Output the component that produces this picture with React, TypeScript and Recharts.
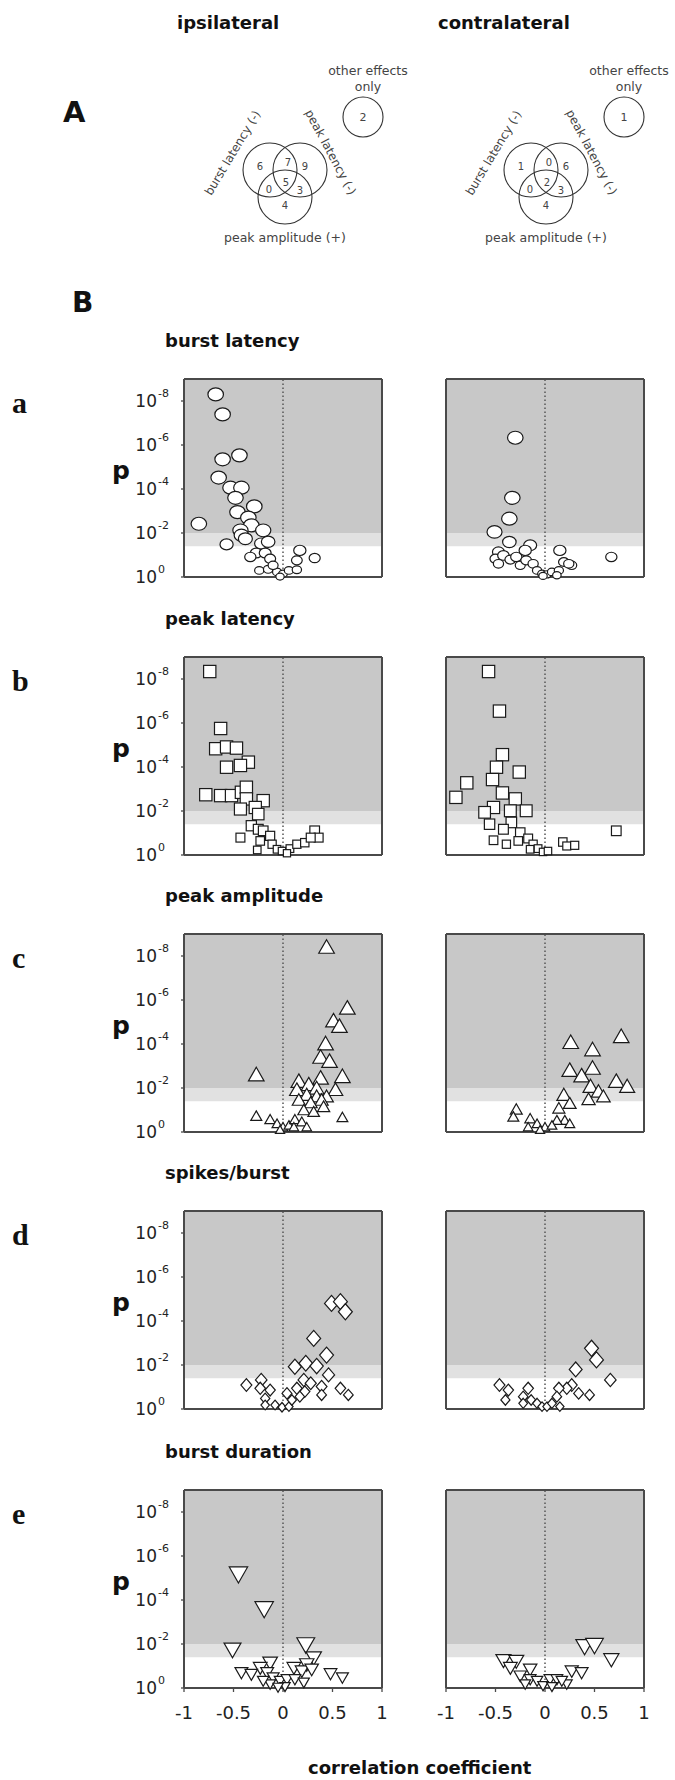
import React from 'react';
import { ScatterChart, Scatter, XAxis, YAxis, ReferenceArea, ReferenceLine } from 'recharts';

// r = correlation coefficient, lp = -log10(p)
const burstLatencyIpsi = [
  [-0.68, 8.3], [-0.61, 7.39], [-0.44, 5.53], [-0.61, 5.35], [-0.65, 4.52], [-0.53, 4.06], [-0.42, 4.06],
  [-0.48, 3.6], [-0.29, 3.21], [-0.46, 2.95], [-0.35, 2.7], [-0.32, 2.35], [-0.85, 2.42], [-0.2, 2.12],
  [-0.43, 2.12], [-0.42, 1.9], [-0.38, 1.74], [-0.57, 1.48], [-0.22, 1.52], [-0.15, 1.6], [-0.27, 1.09],
  [-0.33, 0.91], [-0.18, 1.09], [-0.13, 0.83], [-0.24, 0.3], [-0.15, 0.35], [-0.06, 0.23], [0.0, 0.15],
  [0.06, 0.3], [0.14, 0.33], [0.14, 0.76], [0.17, 1.21], [0.32, 0.86], [-0.03, 0.02], [-0.1, 0.53],
];
const burstLatencyContra = [
  [-0.3, 6.33], [-0.33, 3.6], [-0.36, 2.65], [-0.51, 2.05], [-0.36, 1.59], [-0.15, 1.44], [-0.2, 1.21],
  [-0.47, 1.14], [-0.5, 0.83], [-0.42, 0.98], [-0.35, 0.79], [-0.47, 0.6], [-0.29, 0.91], [-0.25, 0.53],
  [-0.19, 0.76], [-0.12, 0.6], [-0.08, 0.3], [-0.03, 0.15], [0.02, 0.12], [0.07, 0.23], [0.14, 0.3],
  [0.15, 1.21], [0.19, 0.68], [0.27, 0.53], [0.24, 0.6], [0.67, 0.91], [0.12, 0.08], [-0.02, 0.05],
];
const peakLatencyIpsi = [
  [-0.74, 8.34], [-0.63, 5.75], [-0.68, 4.83], [-0.57, 4.91], [-0.47, 4.86], [-0.35, 4.22], [-0.43, 4.07],
  [-0.57, 3.99], [-0.78, 2.74], [-0.63, 2.7], [-0.52, 2.7], [-0.42, 2.85], [-0.37, 3.08], [-0.37, 2.55],
  [-0.2, 2.47], [-0.43, 2.09], [-0.28, 2.16], [-0.25, 1.86], [-0.32, 1.33], [-0.43, 0.79], [-0.25, 1.17],
  [-0.2, 1.1], [-0.13, 0.87], [-0.23, 0.64], [-0.26, 0.23], [-0.11, 0.49], [-0.06, 0.26], [-0.01, 0.18],
  [0.07, 0.29], [0.14, 0.49], [0.22, 0.56], [0.32, 1.1], [0.36, 0.79], [0.28, 0.79], [0.04, 0.08],
];
const peakLatencyContra = [
  [-0.57, 8.34], [-0.46, 6.54], [-0.43, 4.56], [-0.49, 3.99], [-0.26, 3.77], [-0.53, 3.43], [-0.79, 3.28],
  [-0.9, 2.62], [-0.43, 2.82], [-0.3, 2.55], [-0.52, 2.16], [-0.61, 1.94], [-0.35, 2.01], [-0.19, 2.01],
  [-0.56, 1.4], [-0.34, 1.48], [-0.42, 1.17], [-0.25, 1.02], [-0.52, 0.67], [-0.39, 0.49], [-0.27, 0.64],
  [-0.17, 0.75], [-0.12, 0.49], [-0.15, 0.26], [-0.07, 0.29], [-0.02, 0.14], [0.03, 0.18], [0.18, 0.59],
  [0.22, 0.41], [0.3, 0.44], [0.72, 1.1],
];
const peakAmplitudeIpsi = [
  [0.44, 8.33], [0.65, 5.56], [0.51, 4.98], [0.57, 4.73], [0.43, 3.94], [0.38, 3.33], [0.47, 3.14],
  [-0.27, 2.53], [0.38, 2.38], [0.6, 2.45], [0.16, 2.23], [0.26, 2.08], [0.34, 1.92], [0.14, 1.85],
  [0.53, 1.85], [0.24, 1.62], [0.34, 1.55], [0.44, 1.55], [0.39, 1.39], [0.16, 1.39], [0.28, 1.27],
  [0.41, 1.09], [0.21, 0.94], [0.31, 0.86], [0.6, 0.61], [-0.27, 0.67], [-0.13, 0.52], [-0.06, 0.33],
  [0.0, 0.18], [0.06, 0.26], [0.12, 0.52], [0.19, 0.41], [0.24, 0.18], [-0.03, 0.06], [0.11, 0.18],
];
const peakAmplitudeContra = [
  [0.77, 4.27], [0.26, 4.0], [0.48, 3.67], [0.48, 2.83], [0.25, 2.73], [0.37, 2.48], [0.72, 2.23],
  [0.83, 2.0], [0.46, 2.0], [0.54, 1.77], [0.19, 1.62], [0.44, 1.42], [0.59, 1.55], [0.25, 1.24],
  [0.14, 1.02], [0.2, 0.48], [0.12, 0.48], [-0.29, 0.97], [-0.32, 0.64], [-0.15, 0.56], [-0.08, 0.33],
  [0.0, 0.18], [0.07, 0.26], [-0.17, 0.18], [0.25, 0.33], [-0.05, 0.06],
];
const spikesIpsi = [
  [0.49, 4.8], [0.58, 4.88], [0.63, 4.42], [0.31, 3.21], [0.44, 2.45], [0.12, 1.92], [0.23, 2.08],
  [0.34, 1.95], [0.46, 1.55], [0.21, 1.32], [0.28, 1.17], [0.14, 0.94], [0.39, 1.02], [-0.37, 1.09],
  [-0.22, 1.32], [-0.23, 0.94], [-0.13, 0.86], [0.58, 0.94], [0.66, 0.64], [0.39, 0.64], [0.22, 0.79],
  [-0.18, 0.48], [-0.18, 0.18], [-0.08, 0.18], [-0.01, 0.08], [0.06, 0.11], [0.09, 0.41], [0.17, 0.56],
  [0.04, 0.71],
];
const spikesContra = [
  [0.47, 2.76], [0.52, 2.23], [0.31, 1.8], [0.66, 1.32], [0.27, 1.09], [0.22, 0.94], [0.34, 0.71],
  [0.45, 0.64], [0.14, 0.94], [0.12, 0.56], [-0.46, 1.09], [-0.37, 0.86], [-0.4, 0.41], [-0.17, 0.94],
  [-0.22, 0.56], [-0.14, 0.41], [-0.08, 0.26], [-0.03, 0.11], [0.02, 0.11], [0.07, 0.26], [0.15, 0.11],
  [-0.22, 0.26],
];
const durationIpsi = [
  [-0.45, 5.26], [-0.19, 3.68], [-0.51, 1.82], [0.23, 2.05], [0.31, 1.44], [0.24, 1.14], [-0.13, 1.21],
  [-0.23, 0.98], [-0.42, 0.76], [-0.32, 0.68], [-0.16, 0.76], [0.11, 0.98], [0.19, 0.83], [0.29, 0.91],
  [0.48, 0.71], [0.6, 0.53], [-0.1, 0.53], [-0.03, 0.38], [0.04, 0.45], [0.12, 0.45], [0.21, 0.3],
  [-0.13, 0.23], [0.02, 0.11], [-0.05, 0.08], [-0.2, 0.38],
];
const durationContra = [
  [0.4, 1.97], [0.5, 2.02], [0.67, 1.36], [-0.42, 1.32], [-0.29, 1.29], [-0.35, 0.98], [-0.15, 0.91],
  [0.27, 0.83], [0.37, 0.76], [-0.25, 0.61], [-0.15, 0.45], [-0.08, 0.38], [0.05, 0.45], [0.12, 0.45],
  [0.22, 0.23], [-0.2, 0.23], [-0.02, 0.15], [0.07, 0.11], [0.17, 0.38],
];

const xTicks = [-1, -0.5, 0, 0.5, 1];
const yTicks = [0, 2, 4, 6, 8];
const rowTitles = ['burst latency', 'peak latency', 'peak amplitude', 'spikes/burst', 'burst duration'];
const rowLetters = ['a', 'b', 'c', 'd', 'e'];
const rowMarkers = ['circle', 'square', 'triUp', 'diamond', 'triDown'];
const columnTitles = ['ipsilateral', 'contralateral'];
// venn counts: BL only, BL&PL, PL only, BL&PA, all three, PL&PA, PA only
const vennIpsi = [6, 7, 9, 0, 5, 3, 4];
const vennContra = [1, 0, 6, 0, 2, 3, 4];
const otherOnly = [2, 1];

const rows = [
  [burstLatencyIpsi, burstLatencyContra],
  [peakLatencyIpsi, peakLatencyContra],
  [peakAmplitudeIpsi, peakAmplitudeContra],
  [spikesIpsi, spikesContra],
  [durationIpsi, durationContra],
];

const SANS = 'DejaVu Sans, Verdana, sans-serif';
const rowTops = [379, 657, 934, 1211, 1490];
const colLefts = [184, 446];

const makeShape = (kind: string) => (props: any) => {
  const { cx, cy, payload } = props;
  if (cx == null || cy == null) return null;
  const m = Math.min(payload.lp, 2.2);
  const st = { fill: '#fff', stroke: '#1a1a1a', strokeWidth: 1.2 };
  if (kind === 'circle') {
    const d = 7.5 + 3 * m;
    return <ellipse cx={cx} cy={cy} rx={(d / 2) * 1.1} ry={(d / 2) * 0.92} {...st} />;
  }
  if (kind === 'square') {
    const s = 7 + 2.4 * m;
    return <rect x={cx - s / 2} y={cy - s / 2} width={s} height={s} {...st} />;
  }
  if (kind === 'diamond') {
    const w = 8 + 2.7 * m;
    const h = w * 1.15;
    return <path d={`M${cx},${cy - h / 2}L${cx + w / 2},${cy}L${cx},${cy + h / 2}L${cx - w / 2},${cy}Z`} {...st} />;
  }
  if (kind === 'triUp') {
    const w = 9 + 3 * m;
    const h = w * 0.87;
    return <path d={`M${cx},${cy - (2 * h) / 3}L${cx + w / 2},${cy + h / 3}L${cx - w / 2},${cy + h / 3}Z`} {...st} />;
  }
  const w = 10 + 3.8 * m;
  const h = w * 0.87;
  return <path d={`M${cx},${cy + (2 * h) / 3}L${cx + w / 2},${cy - h / 3}L${cx - w / 2},${cy - h / 3}Z`} {...st} />;
};

const PowerTick = (props: any) => {
  const { x, y, payload } = props;
  const sup = payload.value === 0 ? '0' : `-${payload.value}`;
  return (
    <g>
      <text x={x - 24} y={y + 6} textAnchor="end" fontSize={17} fontFamily={SANS} fill="#222">10</text>
      <text x={x - 23} y={y - 4} fontSize={11} fontFamily={SANS} fill="#222">{sup}</text>
    </g>
  );
};

const axisLine = { stroke: '#4a4a4a', strokeWidth: 2 };
const tickLine = { stroke: '#4a4a4a', strokeWidth: 1.3 };

function Panel({ data, kind, left, top, showY, showX }: any) {
  const pts = data.map((d: number[]) => ({ r: d[0], lp: d[1] }));
  return (
    <div style={{ position: 'absolute', left: left - 58, top: top - 16 }}>
      <ScatterChart width={272} height={262} margin={{ top: 8, right: 8, bottom: 8, left: 8 }}>
        <XAxis xAxisId="b" type="number" dataKey="r" domain={[-1, 1]} ticks={xTicks} orientation="bottom"
          height={40} tickSize={4} tickMargin={14} axisLine={axisLine} tickLine={tickLine}
          tick={showX ? { fill: '#222', fontSize: 18, fontFamily: SANS } : false} />
        <XAxis xAxisId="t" type="number" domain={[-1, 1]} ticks={xTicks} orientation="top"
          height={8} tickSize={4} axisLine={axisLine} tickLine={tickLine} tick={false} />
        <YAxis yAxisId="l" type="number" dataKey="lp" domain={[0, 9]} ticks={yTicks} width={50}
          tickSize={3} tickMargin={0} axisLine={axisLine} tickLine={tickLine}
          tick={showY ? <PowerTick /> : false} />
        <YAxis yAxisId="r" type="number" domain={[0, 9]} ticks={yTicks} orientation="right" width={8}
          tickSize={3} axisLine={axisLine} tickLine={tickLine} tick={false} />
        <ReferenceArea xAxisId="b" yAxisId="l" x1={-1} x2={1} y1={2} y2={9} fill="#c8c8c8" fillOpacity={1} stroke="none" />
        <ReferenceArea xAxisId="b" yAxisId="l" x1={-1} x2={1} y1={1.4} y2={2} fill="#e1e1e1" fillOpacity={1} stroke="none" />
        <ReferenceLine xAxisId="b" yAxisId="l" x={0} stroke="#555" strokeWidth={1.5} strokeDasharray="1.5 2.5" />
        <Scatter xAxisId="b" yAxisId="l" data={pts} shape={makeShape(kind)} isAnimationActive={false} />
      </ScatterChart>
    </div>
  );
}

function Venn({ counts, other, dx }: { counts: number[]; other: number; dx: number }) {
  const r = 27;
  const c = [
    [270 + dx, 170],
    [300 + dx, 170],
    [285 + dx, 197],
  ];
  const nums = [
    [260, 166], [288, 162], [305, 166], [269, 189], [286, 182], [300, 190], [285, 205],
  ];
  const fs = { fontFamily: SANS, fill: '#444' };
  return (
    <g>
      {c.map((p, i) => (
        <circle key={i} cx={p[0]} cy={p[1]} r={r} fill="none" stroke="#333" strokeWidth={1.1} />
      ))}
      {counts.map((n, i) => (
        <text key={i} x={nums[i][0] + dx} y={nums[i][1] + 4} textAnchor="middle" fontSize={10} {...fs}>{n}</text>
      ))}
      <text transform={`translate(${236 + dx},155) rotate(-59)`} textAnchor="middle" fontSize={12} {...fs}>burst latency (-)</text>
      <text transform={`translate(${327 + dx},154) rotate(62)`} textAnchor="middle" fontSize={12} {...fs}>peak latency (-)</text>
      <text x={285 + dx} y={242} textAnchor="middle" fontSize={12.5} {...fs}>peak amplitude (+)</text>
      <text x={368 + dx} y={75} textAnchor="middle" fontSize={12.5} {...fs}>other effects</text>
      <text x={368 + dx} y={91} textAnchor="middle" fontSize={12.5} {...fs}>only</text>
      <circle cx={363 + dx} cy={117} r={20} fill="none" stroke="#333" strokeWidth={1.1} />
      <text x={363 + dx} y={121} textAnchor="middle" fontSize={11} {...fs}>{other}</text>
    </g>
  );
}

export default function App() {
  return (
    <div style={{ position: 'absolute', left: 0, top: 0, width: 675, height: 1780, background: '#fff', overflow: 'hidden' }}>
      <svg width={675} height={1780} style={{ position: 'absolute', left: 0, top: 0 }}>
        <text x={177} y={29} fontSize={18} fontWeight="bold" fontFamily={SANS} fill="#111">{columnTitles[0]}</text>
        <text x={438} y={29} fontSize={18} fontWeight="bold" fontFamily={SANS} fill="#111">{columnTitles[1]}</text>
        <text x={63} y={122} fontSize={29} fontWeight="bold" fontFamily={SANS} fill="#111">A</text>
        <Venn counts={vennIpsi} other={otherOnly[0]} dx={0} />
        <Venn counts={vennContra} other={otherOnly[1]} dx={261} />
        <text x={72} y={312} fontSize={28} fontWeight="bold" fontFamily={SANS} fill="#111">B</text>
        {rowTops.map((t, i) => (
          <g key={i}>
            <text x={165} y={t - 32} fontSize={18} fontWeight="bold" fontFamily={SANS} fill="#111">{rowTitles[i]}</text>
            <text x={12} y={t + 34} fontSize={30} fontWeight="bold" fontFamily="Liberation Serif, Times New Roman, serif" fill="#111">{rowLetters[i]}</text>
            <text x={112} y={t + 100} fontSize={25} fontWeight="bold" fontFamily={SANS} fill="#111">p</text>
          </g>
        ))}
        <text x={308} y={1774} fontSize={18} fontWeight="bold" fontFamily={SANS} fill="#111">correlation coefficient</text>
      </svg>
      {rows.map((pair, i) =>
        pair.map((data, j) => (
          <Panel key={`${i}-${j}`} data={data} kind={rowMarkers[i]} left={colLefts[j]} top={rowTops[i]}
            showY={j === 0} showX={i === rows.length - 1} />
        ))
      )}
    </div>
  );
}
